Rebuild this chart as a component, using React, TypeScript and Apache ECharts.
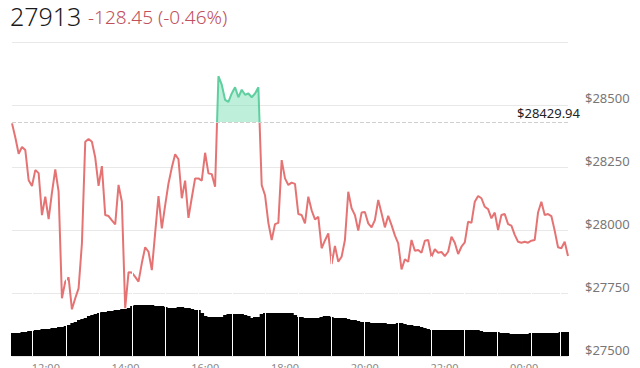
import React, { useEffect, useRef } from "react";
import * as echarts from "echarts";

const PRICE: number[] = [
  28426, 28370, 28305, 28332, 28320, 28200, 28177, 28240, 28228, 28061,
  28134, 28045, 28150, 28243, 28154, 27730, 27796, 27813, 27686, 27730,
  27769, 27948, 28353, 28364, 28353, 28290, 28177, 28256, 28061, 28057,
  28040, 28024, 28181, 28114, 27690, 27833, 27832, 27815, 27796, 27870,
  27933, 27915, 27842, 27990, 28137, 28008, 28100, 28187, 28250, 28303,
  28283, 28128, 28198, 28050, 28130, 28207, 28207, 28198, 28309, 28227,
  28224, 28174, 28614, 28580, 28520, 28512, 28545, 28570, 28530, 28560,
  28540, 28545, 28530, 28545, 28570, 28180, 28140, 28030, 27962, 28025,
  28030, 28280, 28207, 28181, 28190, 28185, 28065, 28061, 28028, 28134,
  28080, 28044, 28054, 27929, 27960, 27988, 27866, 27938, 27875, 27895,
  27962, 28154, 28088, 28061, 27999, 28071, 28073, 28028, 28012, 28041,
  28121, 28068, 28012, 28058, 28021, 27980, 27948, 27845, 27885, 27875,
  27962, 27919, 27922, 27911, 27959, 27962, 27895, 27925, 27911, 27914,
  27898, 27915, 27975, 27951, 27906, 27935, 27952, 28035, 28030, 28114,
  28137, 28128, 28094, 28085, 28048, 28071, 28001, 28061, 28065, 28025,
  28019, 27982, 27955, 27951, 27955, 27951, 27959, 27962, 28071, 28114,
  28061, 28065, 28057, 27999, 27933, 27929, 27955, 27898,
];

const VOLUME: number[] = [
  23, 23, 23, 24, 24, 25, 25, 26, 26, 27,
  27, 27, 28, 28, 29, 29, 30, 31, 33, 34,
  36, 37, 38, 40, 41, 42, 43, 44, 44, 45,
  45, 46, 46, 47, 47, 48, 50, 51, 51, 51,
  51, 51, 51, 50, 50, 50, 49, 48, 48, 48,
  49, 49, 48, 48, 47, 46, 46, 43, 40, 39,
  39, 39, 39, 39, 41, 42, 42, 42, 42, 42,
  41, 40, 38, 39, 39, 42, 43, 43, 43, 43,
  43, 43, 43, 43, 43, 41, 39, 39, 38, 38,
  38, 38, 38, 39, 40, 40, 39, 38, 38, 38,
  38, 37, 36, 36, 35, 34, 34, 34, 33, 33,
  33, 33, 33, 32, 32, 32, 33, 33, 32, 31,
  31, 30, 30, 29, 28, 27, 26, 26, 26, 26,
  26, 26, 26, 26, 26, 26, 26, 26, 26, 26,
  26, 25, 24, 24, 24, 24, 24, 23, 23, 23,
  22, 22, 22, 22, 22, 22, 23, 23, 23, 23,
  23, 23, 23, 23, 23, 24, 24, 24,
];

const SEPARATOR_IDX: number[] = [6, 16, 26, 36, 46, 56, 66, 76, 86, 96, 106, 116, 126, 136, 146, 156, 165];

const X_TICK_LABELS: string[] = ["12:00", "14:00", "16:00", "18:00", "20:00", "22:00", "00:00"];
const Y_MIN = 27500;
const Y_MAX = 28750;
const Y_STEP = 250;
const REF_PRICE = 28429.94;
const LAST_PRICE = "27913";
const CHANGE_TEXT = "-128.45 (-0.46%)";

const FONT = "'Noto Sans', 'Open Sans', sans-serif";

export default function App() {
  const ref = useRef<HTMLDivElement>(null);

  useEffect(() => {
    if (!ref.current) return;
    const chart = echarts.init(ref.current, undefined, { renderer: "svg" });
    const cats = PRICE.map((_, i) => String(i));
    const volCats = VOLUME.map((_, i) => String(i));

    chart.setOption({
      animation: false,
      textStyle: { fontFamily: FONT },
      graphic: [
        {
          type: "text",
          left: 10,
          top: 3,
          style: {
            text: LAST_PRICE,
            fontSize: 25,
            fontWeight: 300,
            fill: "#1a1a1a",
            fontFamily: FONT,
          },
        },
        {
          type: "text",
          left: 88,
          top: 7,
          style: {
            text: CHANGE_TEXT,
            fontSize: 19,
            fontWeight: 300,
            fill: "#c0505c",
            fontFamily: FONT,
          },
        },
      ],
      grid: [
        { left: 12, right: 72, top: 42, bottom: 12, outerBoundsMode: "none", containLabel: false },
        { left: 11, right: 71, top: 256, bottom: 12, outerBoundsMode: "none", containLabel: false },
      ],
      xAxis: [
        {
          type: "category",
          gridIndex: 0,
          data: cats,
          boundaryGap: false,
          show: false,
        },
        {
          type: "category",
          gridIndex: 1,
          data: volCats,
          boundaryGap: true,
          axisLine: { show: false },
          axisTick: { show: false },
          splitLine: { show: false },
          axisLabel: {
            interval: (index: number) => index >= 10 && (index - 10) % 24 === 0,
            formatter: (_v: string, index: number) => X_TICK_LABELS[Math.round((index - 10) / 24)] ?? "",
            color: "#888",
            fontSize: 11,
            margin: 6,
          },
        },
      ],
      yAxis: [
        {
          type: "value",
          gridIndex: 0,
          position: "right",
          min: Y_MIN,
          max: Y_MAX,
          interval: Y_STEP,
          axisLine: { show: false },
          axisTick: { show: false },
          axisLabel: {
            showMaxLabel: false,
            margin: 17,
            color: "#777",
            fontSize: 13,
            verticalAlign: "bottom",
            lineHeight: 13,
            formatter: (v: number) => "$" + v,
          },
          splitLine: { lineStyle: { color: "#e8e8e8", width: 1 } },
        },
        {
          type: "value",
          gridIndex: 1,
          min: 0,
          max: 100,
          show: false,
        },
      ],
      visualMap: [
        {
          type: "piecewise",
          show: false,
          seriesIndex: 0,
          dimension: 1,
          pieces: [
            { gt: 20000, lte: REF_PRICE, color: "#e57373" },
            { gt: REF_PRICE, lte: 40000, color: "#5fcf9f" },
          ],
        },
        {
          type: "piecewise",
          show: false,
          seriesIndex: 1,
          dimension: 1,
          pieces: [
            { gt: 20000, lte: REF_PRICE, color: "rgba(255,255,255,0)" },
            { gt: REF_PRICE, lte: 40000, color: "rgba(110,220,175,0.45)" },
          ],
        },
      ],
      series: [
        {
          type: "line",
          xAxisIndex: 0,
          yAxisIndex: 0,
          data: PRICE,
          symbol: "none",
          z: 4,
          lineStyle: { width: 2 },
          markLine: {
            silent: true,
            symbol: "none",
            lineStyle: { type: "dashed", color: "#cfcfcf", width: 1 },
            label: {
              position: "insideEndTop",
              formatter: () => "$" + REF_PRICE.toFixed(2),
              color: "#222",
              fontSize: 13,
              fontFamily: FONT,
              distance: [-12, 3],
            },
            data: [{ yAxis: REF_PRICE }],
          },
        },
        {
          type: "line",
          xAxisIndex: 0,
          yAxisIndex: 0,
          data: PRICE,
          symbol: "none",
          z: 3,
          lineStyle: { width: 0 },
          areaStyle: { origin: REF_PRICE, opacity: 1 },
        },
        {
          type: "bar",
          xAxisIndex: 1,
          yAxisIndex: 1,
          data: VOLUME,
          z: 1,
          barWidth: 4.2,
          itemStyle: { color: "#000" },
          markLine: {
            silent: true,
            symbol: "none",
            label: { show: false },
            lineStyle: { type: "solid", color: "#ffffff", width: 1 },
            data: SEPARATOR_IDX.map((i) => ({ xAxis: String(i) })),
          },
        },
      ],
    });

    return () => chart.dispose();
  }, []);

  return (
    <div
      ref={ref}
      style={{ position: "absolute", left: 0, top: 0, width: 640, height: 368, background: "#fff" }}
    />
  );
}
